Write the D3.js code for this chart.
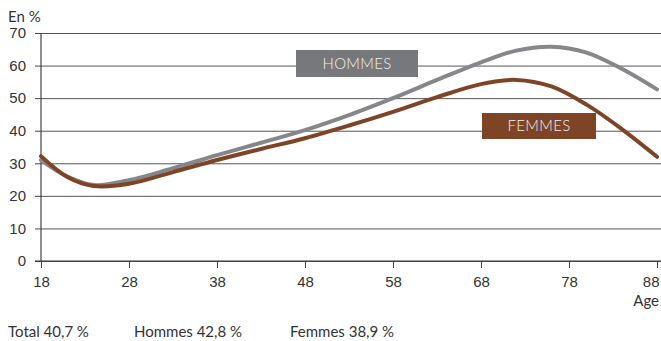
<!DOCTYPE html>
<html>
<head>
<meta charset="utf-8">
<script src="https://cdn.jsdelivr.net/npm/d3@7"></script>
<style>
  html, body { margin: 0; padding: 0; background: #fff; }
  svg { display: block; font-family: Lato, "Open Sans", sans-serif; }
</style>
</head>
<body>
<svg id="chart" width="661" height="341"></svg>
<script>
// Rate by age, in percent
const ages    = [18, 21, 24, 28, 33, 38, 43, 48, 53, 58, 63, 68, 72, 76, 80, 84, 88];
const hommes  = [31.0, 25.9, 23.3, 24.8, 28.5, 32.5, 36.3, 40.2, 44.8, 50.0, 55.6, 61.0, 64.6, 65.8, 64.0, 59.0, 52.7];
const femmes  = [32.2, 25.8, 23.0, 23.7, 27.3, 31.0, 34.4, 37.7, 41.6, 45.8, 50.3, 54.3, 55.6, 53.6, 48.0, 40.5, 32.0];
const xTicks  = [18, 28, 38, 48, 58, 68, 78, 88];
const yTicks  = [0, 10, 20, 30, 40, 50, 60, 70];
const totals  = ["Total 40,7\u202F%", "Hommes 42,8\u202F%", "Femmes 38,9\u202F%"];

const svg = d3.select("#chart");
const plotLeft = 41, plotRight = 657, plotTop = 33, plotBottom = 261;

const x = d3.scaleLinear().domain([18, 88]).range([plotLeft, plotRight]);
const y = d3.scaleLinear().domain([0, 70]).range([plotBottom, plotTop]);

const textColor = "#333";
const fontSize = "15px";

// Horizontal grid lines with left ticks
const yAxis = d3.axisLeft(y).tickValues(yTicks).tickSize(6).tickPadding(8);
const gy = svg.append("g").attr("transform", `translate(${plotLeft},0)`).call(yAxis);
gy.select(".domain").remove();
gy.selectAll(".tick line").attr("stroke", "#444");
gy.selectAll(".tick").append("line")
  .attr("x1", 0).attr("x2", 661 - plotLeft)
  .attr("stroke", "#555").attr("stroke-width", 1);
gy.selectAll("text").attr("fill", textColor).style("font-size", fontSize).attr("x", -15);

// Vertical axis line
svg.append("line")
  .attr("x1", plotLeft).attr("x2", plotLeft).attr("y1", plotTop).attr("y2", plotBottom)
  .attr("stroke", "#444").attr("stroke-width", 1.2);

// Bottom axis
const xAxis = d3.axisBottom(x).tickValues(xTicks).tickSize(7).tickPadding(8);
const gx = svg.append("g").attr("transform", `translate(0,${plotBottom})`).call(xAxis);
gx.select(".domain").remove();
gx.selectAll(".tick line").attr("stroke", "#444");
gx.selectAll("text").attr("fill", textColor).style("font-size", fontSize)
  .attr("text-anchor", d => d === 88 ? "end" : "middle")
  .attr("dx", d => d === 88 ? "2" : "0");
svg.append("line")
  .attr("x1", plotLeft - 6).attr("x2", 661).attr("y1", plotBottom).attr("y2", plotBottom)
  .attr("stroke", "#333").attr("stroke-width", 1.2);

// Axis titles
svg.append("text").attr("x", 8).attr("y", 22).attr("fill", textColor)
  .style("font-size", fontSize).text("En %");
svg.append("text").attr("x", 659).attr("y", 306).attr("text-anchor", "end")
  .attr("fill", textColor).style("font-size", fontSize).text("Age");

// Curves
const line = d3.line().x(d => x(d[0])).y(d => y(d[1])).curve(d3.curveCatmullRom.alpha(0.5));
const series = [
  { name: "HOMMES", values: hommes, color: "#85878a" },
  { name: "FEMMES", values: femmes, color: "#7d4526" }
];
series.forEach(s => {
  svg.append("path")
    .datum(ages.map((a, i) => [a, s.values[i]]))
    .attr("fill", "none")
    .attr("stroke", s.color)
    .attr("stroke-width", 4)
    .attr("stroke-linecap", "round")
    .attr("d", line);
});

// Series labels
const labels = [
  { text: "HOMMES", x0: 296, y0: 50, w: 122, h: 27, color: "#77787b" },
  { text: "FEMMES", x0: 482, y0: 113, w: 114, h: 26, color: "#7d4526" }
];
labels.forEach(l => {
  svg.append("rect").attr("x", l.x0).attr("y", l.y0).attr("width", l.w).attr("height", l.h)
    .attr("fill", l.color);
  svg.append("text").attr("x", l.x0 + l.w / 2).attr("y", l.y0 + l.h / 2 + 5)
    .attr("text-anchor", "middle").attr("fill", "#f2f2f2")
    .style("font-size", "15px").style("font-weight", 300).style("letter-spacing", "0.3px")
    .text(l.text);
});

// Totals line
const totalX = [8, 134, 290];
totals.forEach((t, i) => {
  svg.append("text").attr("x", totalX[i]).attr("y", 337)
    .attr("fill", textColor).style("font-size", fontSize).text(t);
});
</script>
</body>
</html>
